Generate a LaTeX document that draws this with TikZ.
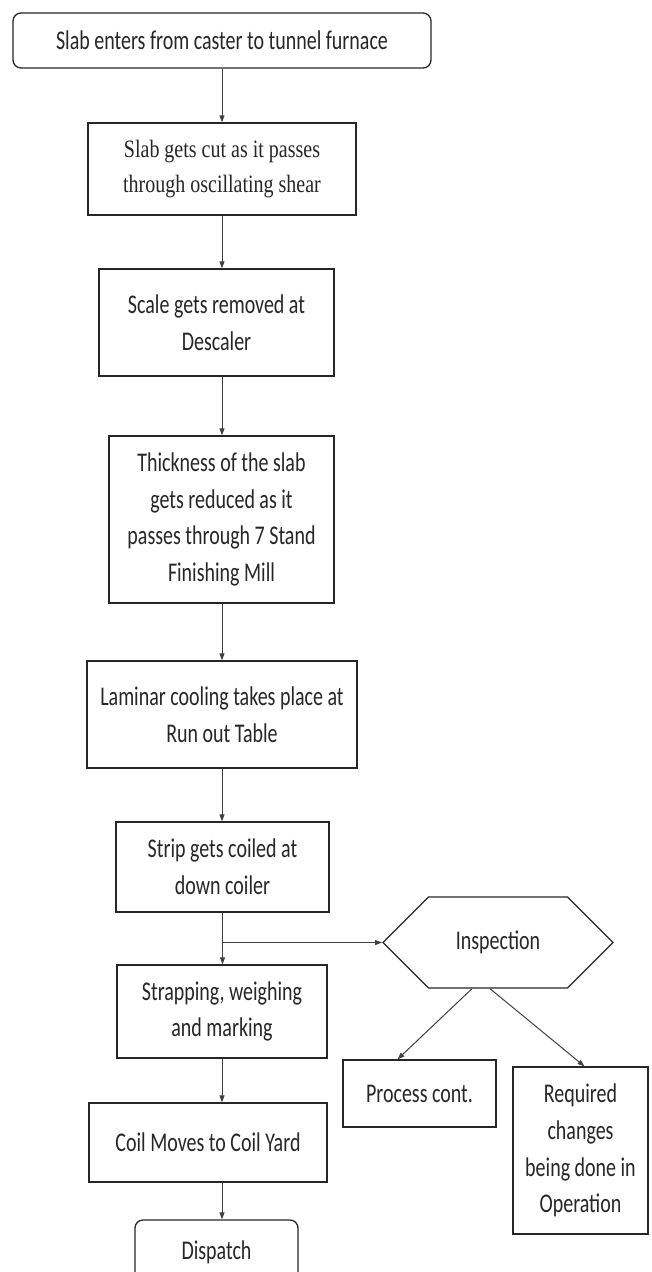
\documentclass[tikz,border=0pt]{standalone}
\usepackage{fontspec}
\setmainfont[FakeStretch=0.74]{Carlito}
\newfontfamily\shearfont[FakeStretch=0.8]{Liberation Serif}
\usepackage{tikz}
\usetikzlibrary{positioning, arrows.meta, shapes.symbols}

\begin{document}
\begin{tikzpicture}[x=1pt, y=-1pt,
    box/.style={draw=black!85, line width=1.3pt, align=center, inner sep=0pt,
      text=black!85, font=\fontsize{27}{36.7}\selectfont},
    endbox/.style={box, rounded corners=8pt},
    hexbox/.style={box, shape=signal, signal to=west and east, signal pointer angle=90},
    flow/.style={draw=black!75, line width=1pt, -{Triangle[length=7pt,width=5pt]}}]

    \useasboundingbox (0,0) rectangle (651,1272);

    % Main line
    \node[endbox, minimum width=418pt, minimum height=55pt] (start) at (222,40.5)
        {Slab enters from caster to tunnel furnace};
    \node[box, minimum width=268pt, minimum height=92pt,
        font=\shearfont\fontsize{25}{35}\selectfont] (cut) at (222,169)
        {Slab gets cut as it passes\\through oscillating shear};
    \node[box, minimum width=235pt, minimum height=107pt] (descale) at (216.5,322.5)
        {Scale gets removed at\\Descaler};
    \node[box, minimum width=225pt, minimum height=167pt] (mill) at (221.5,519.5)
        {Thickness of the slab\\gets reduced as it\\passes through 7 Stand\\Finishing Mill};
    \node[box, minimum width=270pt, minimum height=107pt] (cool) at (222,714.5)
        {Laminar cooling takes place at\\Run out Table};
    \node[box, minimum width=213pt, minimum height=90pt] (coil) at (222.5,867)
        {Strip gets coiled at\\down coiler};
    \node[box, minimum width=210pt, minimum height=93pt] (strap) at (222,1011.5)
        {Strapping, weighing\\and marking};
    \node[box, minimum width=238pt, minimum height=79pt] (move) at (208,1142.5)
        {Coil Moves to Coil Yard};
    \node[endbox, minimum width=163pt, minimum height=64pt] (dispatch) at (216.5,1252)
        {Dispatch};

    % Inspection side
    \node[hexbox, minimum width=230pt, minimum height=91pt] (insp) at (498,942.5)
        {Inspection};
    \node[box, minimum width=153pt, minimum height=67pt] (proc) at (419.5,1093.5)
        {Process cont.};
    \node[box, minimum width=135pt, minimum height=167pt] (req) at (580.5,1150.5)
        {Required\\changes\\being done in\\Operation};

    % Arrows
    \draw[flow] (start.south) -- (cut.north);
    \draw[flow] (cut.south) -- (descale.north -| start.south);
    \draw[flow] (descale.south -| start.south) -- (mill.north -| start.south);
    \draw[flow] (mill.south -| start.south) -- (cool.north -| start.south);
    \draw[flow] (cool.south -| start.south) -- (coil.north -| start.south);
    \coordinate (split) at (coil.south |- insp.west);
    \draw[draw=black!75, line width=1pt] (coil.south) -- (split);
    \draw[flow] (split) -- (strap.north -| split);
    \draw[flow] (split) -- (insp.west);
    \draw[flow] (strap.south -| start.south) -- (move.north -| start.south);
    \draw[flow] (move.south -| start.south) -- (dispatch.north -| start.south);
    \draw[flow] ([xshift=-26pt]insp.south) -- ([xshift=-22pt]proc.north);
    \draw[flow] ([xshift=-8pt]insp.south) -- ([xshift=4pt]req.north);
\end{tikzpicture}
\end{document}
